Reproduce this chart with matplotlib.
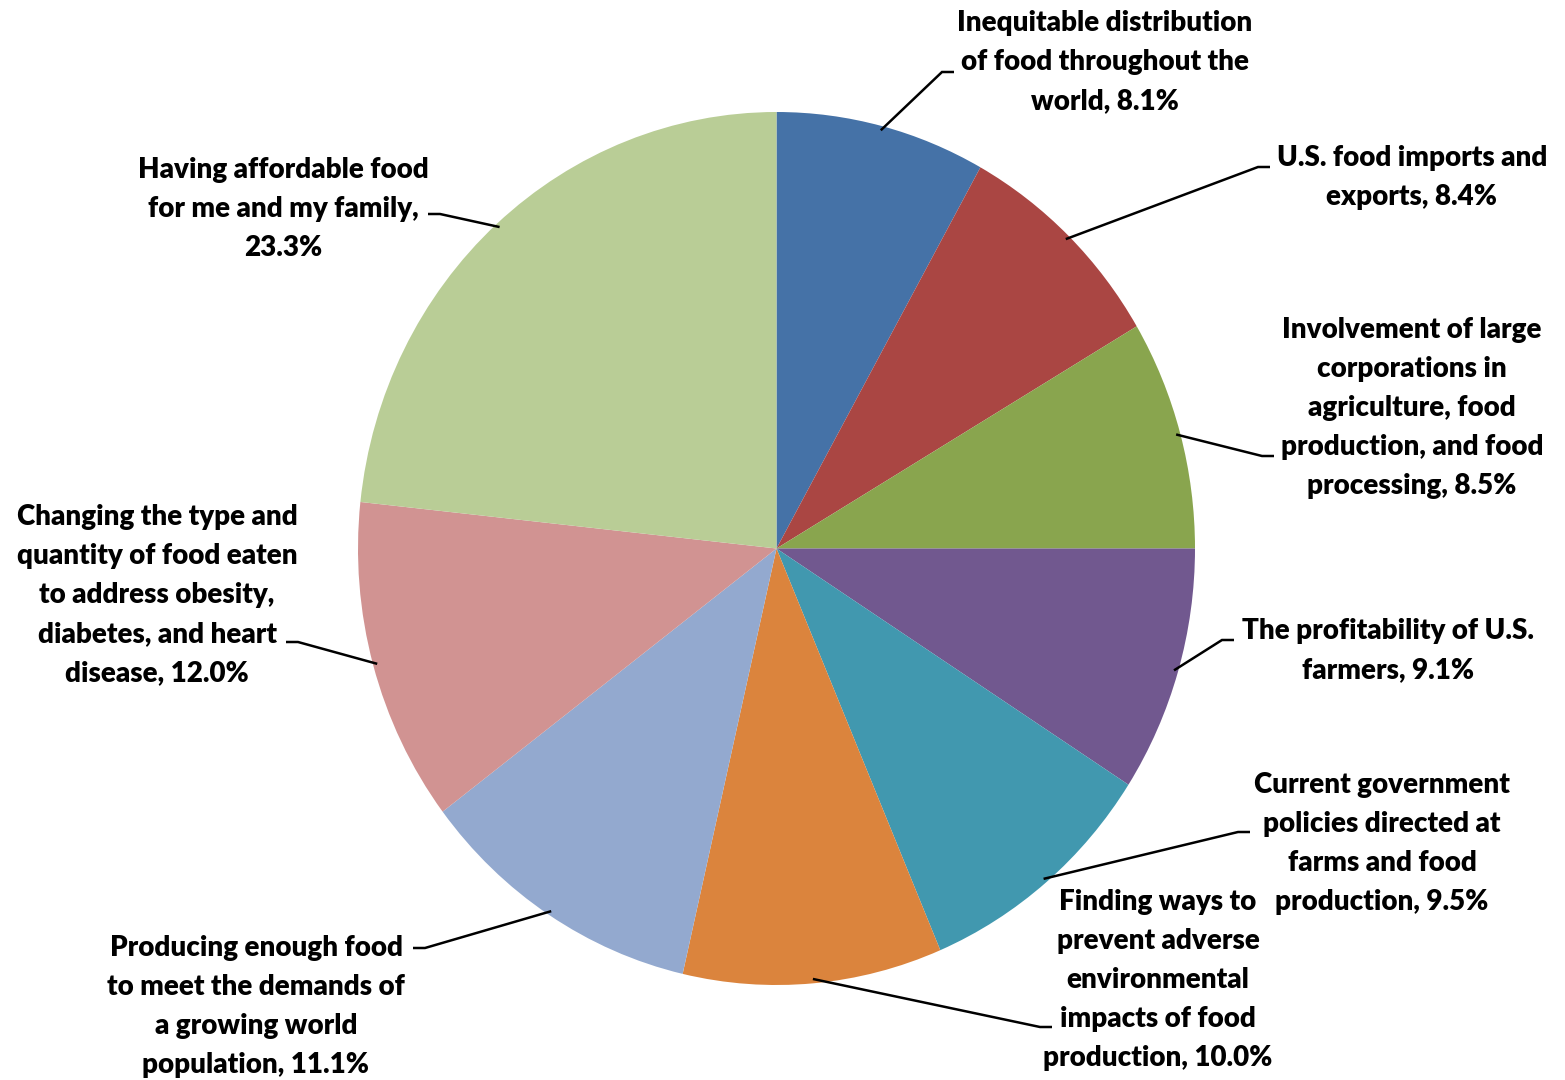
import numpy as np
import matplotlib
matplotlib.use("Agg")
import matplotlib.pyplot as plt

# Survey shares of top food-system concerns (percent)
categories = [
    "Inequitable distribution\nof food throughout the\nworld",
    "U.S. food imports and\nexports",
    "Involvement of large\ncorporations in\nagriculture, food\nproduction, and food\nprocessing",
    "The profitability of U.S.\nfarmers",
    "Current government\npolicies directed at\nfarms and food\nproduction",
    "Finding ways to\nprevent adverse\nenvironmental\nimpacts of food\nproduction",
    "Producing enough food\nto meet the demands of\na growing world\npopulation",
    "Changing the type and\nquantity of food eaten\nto address obesity,\ndiabetes, and heart\ndisease",
    "Having affordable food\nfor me and my family,\n",
]
values = [8.1, 8.4, 8.5, 9.1, 9.5, 10.0, 11.1, 12.0, 23.3]
colors = ["#4572A7", "#AA4643", "#89A54E", "#71588F", "#4198AF",
          "#DB843D", "#93A9CF", "#D19392", "#B9CD96"]

W, H = 1565, 1080
fig = plt.figure(figsize=(W / 100, H / 100), dpi=100)

# Pie area (pixel box of the ellipse)
px0, px1, py0, py1 = 358, 1195, 112, 985
cx, cy = (px0 + px1) / 2, (py0 + py1) / 2
rx, ry = (px1 - px0) / 2, (py1 - py0) / 2

pie_ax = fig.add_axes([px0 / W, 1 - py1 / H, (px1 - px0) / W, (py1 - py0) / H])
wedges, _ = pie_ax.pie(values, colors=colors, startangle=90, counterclock=False,
                       radius=1.0, wedgeprops=dict(linewidth=0))
pie_ax.set_xlim(-1, 1)
pie_ax.set_ylim(-1, 1)
pie_ax.set_aspect("auto")
pie_ax.axis("off")

# Overlay in pixel coordinates for labels and leader lines
ov = fig.add_axes([0, 0, 1, 1])
ov.set_xlim(0, W)
ov.set_ylim(H, 0)
ov.axis("off")
ov.patch.set_alpha(0)

# Label layout: text centre x, first line y, elbow point (x, y), side of text
layout = [
    (1105, 23, (942, 72), "right"),
    (1412, 158, (1258, 167), "right"),
    (1412, 330, (1262, 456), "right"),
    (1388, 631, (1222, 640), "right"),
    (1382, 785, (1238, 832), "right"),
    (1158, 902, (1040, 1027), "right"),
    (256, 948, (425, 948), "left"),
    (157, 517, (298, 642), "left"),
    (283, 170, (440, 214), "left"),
]
step = 39
font = dict(family=["Lato", "DejaVu Sans"], fontweight="heavy", fontsize=20, color="black")

for i, (val, cat, (tx, ty, (ex, ey), side)) in enumerate(zip(values, categories, layout)):
    w = wedges[i]
    mid = np.deg2rad((w.theta1 + w.theta2) / 2)
    sx = cx + rx * 0.99 * np.cos(mid)
    sy = cy - ry * 0.99 * np.sin(mid)
    hx = ex + (12 if side == "right" else -12)
    ov.plot([sx, ex, hx], [sy, ey, ey], color="black", lw=1.8,
            solid_capstyle="butt", solid_joinstyle="miter")
    lines = cat.split("\n")
    if lines[-1] == "":
        lines[-1] = f"{val:.1f}%"
    else:
        lines[-1] = f"{lines[-1]}, {val:.1f}%"
    for k, line in enumerate(lines):
        ov.text(tx, ty + k * step, line, ha="center", va="center", **font)

fig.savefig("out.png", dpi=100, facecolor="white")
